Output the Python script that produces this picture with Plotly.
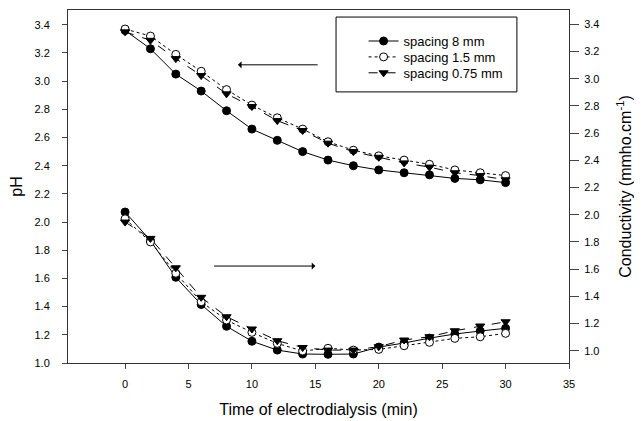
import plotly.graph_objects as go

time = [0, 2, 4, 6, 8, 10, 12, 14, 16, 18, 20, 22, 24, 26, 28, 30]

ph_8mm = [3.36, 3.23, 3.05, 2.93, 2.79, 2.66, 2.58, 2.50, 2.44, 2.40, 2.37, 2.35, 2.335, 2.31, 2.30, 2.28]
ph_1_5mm = [3.37, 3.32, 3.19, 3.07, 2.94, 2.83, 2.74, 2.66, 2.57, 2.51, 2.47, 2.44, 2.41, 2.37, 2.35, 2.33]
ph_0_75mm = [3.35, 3.29, 3.16, 3.04, 2.91, 2.82, 2.72, 2.65, 2.56, 2.50, 2.46, 2.42, 2.39, 2.35, 2.33, 2.30]

cond_8mm = [2.02, 1.81, 1.54, 1.34, 1.18, 1.07, 1.005, 0.976, 0.974, 0.976, 1.027, 1.057, 1.093, 1.123, 1.145, 1.165]
cond_1_5mm = [1.97, 1.80, 1.57, 1.36, 1.226, 1.135, 1.054, 0.998, 1.018, 1.005, 1.01, 1.037, 1.062, 1.091, 1.103, 1.128]
cond_0_75mm = [1.946, 1.826, 1.61, 1.393, 1.25, 1.16, 1.074, 1.024, 1.005, 1.005, 1.03, 1.079, 1.103, 1.147, 1.182, 1.213]

names = ["spacing 8 mm", "spacing 1.5 mm", "spacing 0.75 mm"]
x_ticks = [0, 5, 10, 15, 20, 25, 30, 35]

styles = [
    dict(marker=dict(symbol="circle", size=8, color="black", line=dict(color="black", width=1)),
         line=dict(color="black", width=1, dash="solid")),
    dict(marker=dict(symbol="circle", size=8, color="white", line=dict(color="black", width=1)),
         line=dict(color="black", width=1, dash="dot")),
    dict(marker=dict(symbol="triangle-down", size=8, color="black", line=dict(color="black", width=1)),
         line=dict(color="black", width=1, dash="dash")),
]
legend_ids = ["legend", "legend2", "legend3"]

fig = go.Figure()
for name, ph, st, lg in zip(names, [ph_8mm, ph_1_5mm, ph_0_75mm], styles, legend_ids):
    fig.add_trace(go.Scatter(x=time, y=ph, mode="lines+markers", name=name, legend=lg,
                             marker=st["marker"], line=st["line"], yaxis="y"))
for name, c, st in zip(names, [cond_8mm, cond_1_5mm, cond_0_75mm], styles):
    fig.add_trace(go.Scatter(x=time, y=c, mode="lines+markers", name=name, showlegend=False,
                             marker=st["marker"], line=st["line"], yaxis="y2"))

FONT = "Liberation Sans, Arial, sans-serif"
axis_font = dict(family=FONT, size=11, color="black")
title_font = dict(family=FONT, size=16, color="black")


def legend_at(yc):
    return dict(x=0.59, y=yc, xanchor="left", yanchor="middle", bgcolor="rgba(0,0,0,0)",
                borderwidth=0, font=dict(family=FONT, size=13, color="black"),
                tracegroupgap=0, itemwidth=30)


fig.update_layout(
    width=642, height=421,
    margin=dict(l=60, r=81, t=2, b=66, autoexpand=False),
    paper_bgcolor="white", plot_bgcolor="white",
    font=axis_font,
    xaxis=dict(range=[-4.5, 35], tickvals=x_ticks, ticks="outside", ticklen=5,
               showline=True, linecolor="#333", linewidth=1, mirror=True, showgrid=False,
               zeroline=False, tickfont=axis_font, automargin=False, ticklabelstandoff=6,
               title=dict(text="Time of electrodialysis (min)", font=title_font, standoff=14)),
    yaxis=dict(range=[1.0, 3.505], dtick=0.2, tick0=1.0, tickformat=".1f", ticks="outside", ticklen=5,
               showline=True, linecolor="#333", linewidth=1, showgrid=False, zeroline=False,
               tickfont=axis_font, automargin=False, ticklabelstandoff=10,
               title=dict(text="pH", font=title_font, standoff=12)),
    yaxis2=dict(range=[0.91, 3.505], dtick=0.2, tick0=1.0, tickformat=".1f", ticks="outside", ticklen=9,
                overlaying="y", side="right", showline=True, linecolor="#333", linewidth=1,
                showgrid=False, zeroline=False, tickfont=axis_font, automargin=False,
                ticklabelstandoff=3,
                title=dict(text="Conductivity (mmho.cm<sup>-1</sup>)", font=title_font, standoff=21)),
    legend=legend_at(0.912),
    legend2=legend_at(0.867),
    legend3=legend_at(0.822),
    showlegend=True,
)

# legend frame
fig.add_shape(type="rect", xref="paper", yref="paper", x0=0.535, x1=0.896, y0=0.768, y1=0.98,
              line=dict(color="black", width=1), fillcolor="white", layer="below")

fig.add_annotation(x=8.9, y=3.116, ax=15.3, ay=3.116, xref="x", yref="y", axref="x", ayref="y",
                   showarrow=True, arrowhead=1, arrowsize=1.2, arrowwidth=1, arrowcolor="black", text="")
fig.add_annotation(x=15.0, y=1.688, ax=6.9, ay=1.688, xref="x", yref="y", axref="x", ayref="y",
                   showarrow=True, arrowhead=1, arrowsize=1.2, arrowwidth=1, arrowcolor="black", text="")

fig.write_html("out.html")
